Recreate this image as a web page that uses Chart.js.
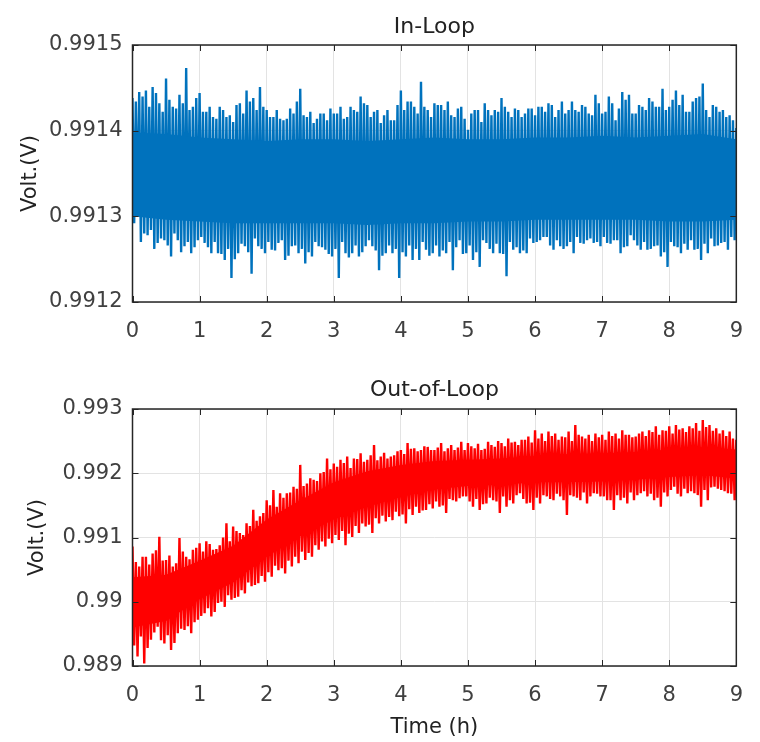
<!DOCTYPE html>
<html>
<head>
<meta charset="utf-8">
<script src="https://cdn.jsdelivr.net/npm/chart.js@4/dist/chart.umd.min.js"></script>
<style>
    body { margin: 0; background: #fff; }
    #wrap { position: relative; width: 760px; height: 742px; }
    canvas { position: absolute; left: 0; }
    #inLoop { top: 0; }
    #outLoop { top: 360px; }
</style>
</head>
<body>
<div id="wrap">
    <canvas id="inLoop" width="760" height="360"></canvas>
    <canvas id="outLoop" width="760" height="382"></canvas>
</div>
<script>
// time axis
const hourTicks = [0, 1, 2, 3, 4, 5, 6, 7, 8, 9];
const hourLabels = ['0', '1', '2', '3', '4', '5', '6', '7', '8', '9'];
const slotStep = 0.1; // each 0.1 h slot: peak, trough, smaller peak, trough
const coreHours = [0, 0.5, 1, 1.5, 2, 2.5, 3, 3.5, 4, 4.5, 5, 5.5, 6, 6.5, 7, 7.5, 8, 8.5, 9];

// In-Loop: tallest peaks at 0, 0.1 ... 9.0 h
const inHi = [
    0.991438, 0.991445, 0.991447, 0.991451, 0.991432, 0.991461, 0.991428, 0.991442, 0.991473, 0.991428,
    0.991444, 0.991422, 0.991416, 0.991428, 0.991416, 0.991410, 0.991432, 0.991447, 0.991438, 0.991451,
    0.991424, 0.991416, 0.991414, 0.991414, 0.991420, 0.991449, 0.991416, 0.991409, 0.991420, 0.991412,
    0.991420, 0.991428, 0.991416, 0.991424, 0.991440, 0.991430, 0.991422, 0.991409, 0.991424, 0.991412,
    0.991447, 0.991434, 0.991428, 0.991457, 0.991424, 0.991432, 0.991430, 0.991434, 0.991416, 0.991428,
    0.991401, 0.991424, 0.991410, 0.991424, 0.991424, 0.991438, 0.991422, 0.991426, 0.991416, 0.991426,
    0.991418, 0.991428, 0.991432, 0.991416, 0.991434, 0.991424, 0.991424, 0.991430, 0.991420, 0.991442,
    0.991420, 0.991440, 0.991412, 0.991445, 0.991442, 0.991420, 0.991428, 0.991438, 0.991428, 0.991449,
    0.991428, 0.991447, 0.991442, 0.991422, 0.991438, 0.991455, 0.991416, 0.991428, 0.991424, 0.991418,
    0.991403
];
// In-Loop: smaller peaks at 0.05, 0.15 ... 8.95 h
const inHiMid = [
    0.991434, 0.991440, 0.991428, 0.991444, 0.991422, 0.991436, 0.991426, 0.991432, 0.991424, 0.991438,
    0.991422, 0.991428, 0.991414, 0.991424, 0.991418, 0.991430, 0.991420, 0.991434, 0.991424, 0.991428,
    0.991416, 0.991424, 0.991412, 0.991426, 0.991434, 0.991418, 0.991422, 0.991414, 0.991420, 0.991426,
    0.991420, 0.991414, 0.991428, 0.991422, 0.991432, 0.991416, 0.991424, 0.991418, 0.991412, 0.991430,
    0.991424, 0.991434, 0.991420, 0.991428, 0.991416, 0.991430, 0.991424, 0.991418, 0.991426, 0.991414,
    0.991420, 0.991424, 0.991432, 0.991418, 0.991422, 0.991428, 0.991416, 0.991424, 0.991420, 0.991426,
    0.991428, 0.991422, 0.991430, 0.991424, 0.991420, 0.991434, 0.991422, 0.991428, 0.991418, 0.991432,
    0.991422, 0.991432, 0.991426, 0.991436, 0.991420, 0.991430, 0.991424, 0.991434, 0.991428, 0.991424,
    0.991436, 0.991430, 0.991422, 0.991434, 0.991440, 0.991424, 0.991430, 0.991422, 0.991416, 0.991412
];
// In-Loop: deepest troughs at 0.075, 0.175 ... 8.975 h
const inLo = [
    0.991300, 0.991280, 0.991284, 0.991269, 0.991272, 0.991253, 0.991272, 0.991265, 0.991257, 0.991272,
    0.991269, 0.991257, 0.991257, 0.991249, 0.991228, 0.991257, 0.991265, 0.991233, 0.991265, 0.991257,
    0.991261, 0.991269, 0.991249, 0.991265, 0.991257, 0.991245, 0.991253, 0.991265, 0.991261, 0.991253,
    0.991228, 0.991257, 0.991257, 0.991253, 0.991265, 0.991265, 0.991237, 0.991257, 0.991257, 0.991228,
    0.991253, 0.991249, 0.991249, 0.991261, 0.991257, 0.991253, 0.991257, 0.991237, 0.991272, 0.991257,
    0.991249, 0.991241, 0.991269, 0.991257, 0.991257, 0.991230, 0.991261, 0.991257, 0.991257, 0.991269,
    0.991272, 0.991276, 0.991261, 0.991265, 0.991265, 0.991257, 0.991269, 0.991272, 0.991269, 0.991265,
    0.991269, 0.991272, 0.991257, 0.991265, 0.991272, 0.991261, 0.991261, 0.991265, 0.991253, 0.991241,
    0.991265, 0.991257, 0.991261, 0.991261, 0.991249, 0.991257, 0.991265, 0.991269, 0.991261, 0.991272
];
// In-Loop: shallower troughs at 0.025, 0.125 ... 8.925 h
const inLoMid = [
    0.991292, 0.991270, 0.991278, 0.991262, 0.991274, 0.991266, 0.991280, 0.991258, 0.991270, 0.991264,
    0.991276, 0.991264, 0.991270, 0.991256, 0.991262, 0.991250, 0.991268, 0.991258, 0.991274, 0.991262,
    0.991270, 0.991260, 0.991272, 0.991254, 0.991266, 0.991262, 0.991258, 0.991270, 0.991264, 0.991256,
    0.991262, 0.991270, 0.991252, 0.991266, 0.991258, 0.991272, 0.991260, 0.991254, 0.991266, 0.991262,
    0.991258, 0.991266, 0.991262, 0.991270, 0.991254, 0.991266, 0.991260, 0.991270, 0.991264, 0.991256,
    0.991266, 0.991258, 0.991272, 0.991262, 0.991268, 0.991256, 0.991270, 0.991264, 0.991260, 0.991274,
    0.991270, 0.991276, 0.991266, 0.991272, 0.991262, 0.991270, 0.991276, 0.991268, 0.991274, 0.991270,
    0.991276, 0.991268, 0.991272, 0.991264, 0.991278, 0.991266, 0.991270, 0.991262, 0.991266, 0.991258,
    0.991270, 0.991264, 0.991268, 0.991272, 0.991262, 0.991268, 0.991274, 0.991266, 0.991270, 0.991276
];
// In-Loop: dense core of the trace
const inCoreHi = [0.991398, 0.991396, 0.991392, 0.991390, 0.991388, 0.991390, 0.991390, 0.991388, 0.991390, 0.991392,
    0.991390, 0.991390, 0.991392, 0.991392, 0.991394, 0.991392, 0.991394, 0.991396, 0.991390];
const inCoreLo = [0.991300, 0.991296, 0.991294, 0.991292, 0.991292, 0.991292, 0.991292, 0.991290, 0.991292, 0.991292,
    0.991294, 0.991294, 0.991296, 0.991296, 0.991296, 0.991296, 0.991294, 0.991294, 0.991296];

// Out-of-Loop: tallest peaks at 0, 0.1 ... 9.0 h
const outHi = [
    0.99086, 0.99055, 0.99070, 0.99075, 0.99101, 0.99065, 0.99055, 0.99099, 0.99070, 0.99081,
    0.99091, 0.99094, 0.99081, 0.99088, 0.99122, 0.99117, 0.99107, 0.99122, 0.99143, 0.99133,
    0.99158, 0.99174, 0.99169, 0.99169, 0.99179, 0.99213, 0.99184, 0.99190, 0.99200, 0.99223,
    0.99215, 0.99221, 0.99226, 0.99223, 0.99231, 0.99221, 0.99244, 0.99226, 0.99223, 0.99228,
    0.99236, 0.99247, 0.99239, 0.99236, 0.99241, 0.99236, 0.99247, 0.99239, 0.99236, 0.99249,
    0.99247, 0.99239, 0.99236, 0.99249, 0.99241, 0.99247, 0.99254, 0.99249, 0.99252, 0.99257,
    0.99267, 0.99262, 0.99265, 0.99262, 0.99257, 0.99265, 0.99275, 0.99257, 0.99260, 0.99262,
    0.99260, 0.99265, 0.99262, 0.99267, 0.99260, 0.99257, 0.99265, 0.99267, 0.99273, 0.99267,
    0.99273, 0.99275, 0.99270, 0.99273, 0.99278, 0.99283, 0.99275, 0.99270, 0.99267, 0.99265,
    0.99252
];
// Out-of-Loop: smaller peaks at 0.05, 0.15 ... 8.95 h
const outHiMid = [
    0.99062, 0.99070, 0.99058, 0.99080, 0.99064, 0.99072, 0.99060, 0.99078, 0.99066, 0.99084,
    0.99078, 0.99090, 0.99082, 0.99100, 0.99094, 0.99110, 0.99104, 0.99118, 0.99126, 0.99138,
    0.99150, 0.99148, 0.99162, 0.99170, 0.99176, 0.99180, 0.99192, 0.99188, 0.99202, 0.99206,
    0.99210, 0.99216, 0.99208, 0.99222, 0.99218, 0.99228, 0.99220, 0.99232, 0.99226, 0.99234,
    0.99230, 0.99238, 0.99234, 0.99242, 0.99236, 0.99240, 0.99234, 0.99244, 0.99240, 0.99236,
    0.99242, 0.99246, 0.99238, 0.99244, 0.99250, 0.99242, 0.99248, 0.99244, 0.99252, 0.99248,
    0.99254, 0.99250, 0.99258, 0.99252, 0.99256, 0.99250, 0.99260, 0.99254, 0.99250, 0.99256,
    0.99252, 0.99258, 0.99254, 0.99260, 0.99256, 0.99262, 0.99258, 0.99264, 0.99260, 0.99266,
    0.99262, 0.99268, 0.99264, 0.99270, 0.99266, 0.99272, 0.99266, 0.99262, 0.99258, 0.99254
];
// Out-of-Loop: deepest troughs at 0.075, 0.175 ... 8.975 h
const outLo = [
    0.98915, 0.98904, 0.98941, 0.98961, 0.98935, 0.98925, 0.98951, 0.98956, 0.98951, 0.98972,
    0.98982, 0.98977, 0.98998, 0.98992, 0.99003, 0.99008, 0.99013, 0.99024, 0.99029, 0.99031,
    0.99039, 0.99049, 0.99044, 0.99055, 0.99060, 0.99065, 0.99070, 0.99081, 0.99086, 0.99091,
    0.99096, 0.99088, 0.99101, 0.99107, 0.99117, 0.99107, 0.99122, 0.99125, 0.99127, 0.99133,
    0.99122, 0.99135, 0.99138, 0.99143, 0.99145, 0.99148, 0.99138, 0.99158, 0.99161, 0.99164,
    0.99148, 0.99143, 0.99153, 0.99158, 0.99138, 0.99148, 0.99153, 0.99169, 0.99153, 0.99143,
    0.99153, 0.99164, 0.99158, 0.99164, 0.99135, 0.99164, 0.99158, 0.99153, 0.99169, 0.99164,
    0.99158, 0.99143, 0.99158, 0.99153, 0.99158, 0.99169, 0.99164, 0.99158, 0.99148, 0.99164,
    0.99179, 0.99164, 0.99169, 0.99169, 0.99148, 0.99158, 0.99179, 0.99174, 0.99169, 0.99158
];
// Out-of-Loop: shallower troughs at 0.025, 0.125 ... 8.925 h
const outLoMid = [
    0.98932, 0.98946, 0.98928, 0.98952, 0.98940, 0.98948, 0.98936, 0.98958, 0.98962, 0.98968,
    0.98978, 0.98990, 0.98984, 0.99000, 0.99010, 0.99006, 0.99018, 0.99030, 0.99026, 0.99040,
    0.99046, 0.99056, 0.99052, 0.99064, 0.99070, 0.99078, 0.99076, 0.99088, 0.99094, 0.99098,
    0.99104, 0.99110, 0.99106, 0.99118, 0.99122, 0.99120, 0.99130, 0.99134, 0.99132, 0.99140,
    0.99136, 0.99144, 0.99148, 0.99142, 0.99152, 0.99156, 0.99150, 0.99160, 0.99156, 0.99164,
    0.99156, 0.99160, 0.99152, 0.99162, 0.99156, 0.99164, 0.99158, 0.99166, 0.99160, 0.99154,
    0.99162, 0.99166, 0.99160, 0.99168, 0.99158, 0.99166, 0.99162, 0.99170, 0.99164, 0.99168,
    0.99164, 0.99158, 0.99166, 0.99162, 0.99170, 0.99166, 0.99172, 0.99168, 0.99162, 0.99170,
    0.99174, 0.99168, 0.99176, 0.99172, 0.99166, 0.99174, 0.99178, 0.99176, 0.99172, 0.99168
];
const outCoreHi = [0.99038, 0.99042, 0.99064, 0.99087, 0.99128, 0.99158, 0.99186, 0.99203, 0.99213, 0.99219,
    0.99221, 0.99223, 0.99227, 0.99230, 0.99231, 0.99233, 0.99237, 0.99241, 0.99237];
const outCoreLo = [0.98960, 0.98970, 0.99004, 0.99030, 0.99070, 0.99102, 0.99128, 0.99148, 0.99163, 0.99175,
    0.99180, 0.99182, 0.99186, 0.99186, 0.99187, 0.99190, 0.99194, 0.99197, 0.99192];

// y ticks
const inTicks = [0.9912, 0.9913, 0.9914, 0.9915];
const inTickLabels = ['0.9912', '0.9913', '0.9914', '0.9915'];
const outTicks = [0.989, 0.990, 0.991, 0.992, 0.993];
const outTickLabels = ['0.989', '0.99', '0.991', '0.992', '0.993'];

const FONT = 'DejaVu Sans';

// peak, trough, peak, trough ... so the line fills the band like a dense trace
function zigzag(hi, hiMid, lo, loMid) {
    const pts = [];
    hi.forEach(function (v, i) {
        const t = i * slotStep;
        pts.push({ x: t, y: v });
        if (i < lo.length) {
            pts.push({ x: t + slotStep / 4, y: loMid[i] });
            pts.push({ x: t + slotStep / 2, y: hiMid[i] });
            pts.push({ x: t + slotStep * 3 / 4, y: lo[i] });
        }
    });
    return pts;
}

function pairUp(xs, ys) {
    return xs.map(function (x, i) { return { x: x, y: ys[i] }; });
}

// MATLAB-like box, inward ticks and axes title
const matlabBox = {
    id: 'matlabBox',
    afterDatasetsDraw(chart, args, opts) {
        const ctx = chart.ctx;
        const a = chart.chartArea;
        const x = chart.scales.x, y = chart.scales.y;
        ctx.save();
        ctx.strokeStyle = '#262626';
        ctx.lineWidth = 1;
        ctx.beginPath();
        x.ticks.forEach(function (t) {
            const px = Math.round(x.getPixelForValue(t.value)) + 0.5;
            ctx.moveTo(px, a.bottom); ctx.lineTo(px, a.bottom - 6);
            ctx.moveTo(px, a.top); ctx.lineTo(px, a.top + 6);
        });
        y.ticks.forEach(function (t) {
            const py = Math.round(y.getPixelForValue(t.value)) + 0.5;
            ctx.moveTo(a.left, py); ctx.lineTo(a.left + 6, py);
            ctx.moveTo(a.right, py); ctx.lineTo(a.right - 6, py);
        });
        ctx.stroke();
        ctx.lineWidth = 1.5;
        ctx.strokeRect(a.left, a.top, a.right - a.left, a.bottom - a.top);
        ctx.fillStyle = '#222';
        ctx.font = '22px "' + FONT + '"';
        ctx.textAlign = 'center';
        ctx.textBaseline = 'middle';
        ctx.fillText(opts.text, (a.left + a.right) / 2, a.top - opts.gap);
        ctx.restore();
    }
};

function makeConfig(o) {
    return {
        type: 'line',
        data: {
            datasets: [
                { data: pairUp(coreHours, o.coreHi), borderWidth: 0, pointRadius: 0, fill: false },
                { data: pairUp(coreHours, o.coreLo), borderWidth: 0, pointRadius: 0, fill: '-1', backgroundColor: o.color },
                { data: zigzag(o.hi, o.hiMid, o.lo, o.loMid), borderColor: o.color, borderWidth: 2.4, pointRadius: 0, tension: 0, borderJoinStyle: 'bevel', fill: false }
            ]
        },
        options: {
            responsive: false,
            animation: false,
            events: [],
            clip: 0,
            layout: { padding: { top: o.padTop, right: 8, left: 0, bottom: 0 } },
            plugins: {
                legend: { display: false },
                tooltip: { enabled: false },
                matlabBox: { text: o.title, gap: o.titleGap }
            },
            scales: {
                x: {
                    type: 'linear', min: 0, max: 9,
                    afterBuildTicks: function (s) { s.ticks = hourTicks.map(function (v) { return { value: v }; }); },
                    afterFit: function (s) { s.height = o.xHeight; },
                    grid: { color: '#e3e3e3', drawTicks: false },
                    border: { display: false },
                    ticks: {
                        color: '#404040', padding: 17, maxRotation: 0,
                        font: { family: FONT, size: 21 },
                        callback: function (v, i) { return hourLabels[i]; }
                    },
                    title: {
                        display: o.xTitle !== '', text: o.xTitle, color: '#222',
                        font: { family: FONT, size: 21 }, padding: { top: 0, bottom: 2 }
                    }
                },
                y: {
                    type: 'linear', min: o.ticks[0], max: o.ticks[o.ticks.length - 1],
                    afterBuildTicks: function (s) { s.ticks = o.ticks.map(function (v) { return { value: v }; }); },
                    afterFit: function (s) { s.width = 132.5; },
                    grid: { color: '#e3e3e3', drawTicks: false },
                    border: { display: false },
                    ticks: {
                        color: '#404040', padding: 10,
                        font: { family: FONT, size: 21 },
                        callback: function (v, i) { return o.tickLabels[i]; }
                    },
                    title: {
                        display: true, text: 'Volt.(V)', color: '#222',
                        font: { family: FONT, size: 21 }, padding: { top: o.yTitlePad, bottom: 0 }
                    }
                }
            }
        },
        plugins: [matlabBox]
    };
}

window.addEventListener('load', function () {
    new Chart(document.getElementById('inLoop').getContext('2d'), makeConfig({
        title: 'In-Loop', titleGap: 18, padTop: 45, xHeight: 58, xTitle: '',
        hi: inHi, hiMid: inHiMid, lo: inLo, loMid: inLoMid, coreHi: inCoreHi, coreLo: inCoreLo,
        ticks: inTicks, tickLabels: inTickLabels, color: '#0072BD', yTitlePad: 18
    }));
    new Chart(document.getElementById('outLoop').getContext('2d'), makeConfig({
        title: 'Out-of-Loop', titleGap: 19, padTop: 49, xHeight: 76, xTitle: 'Time (h)',
        hi: outHi, hiMid: outHiMid, lo: outLo, loMid: outLoMid, coreHi: outCoreHi, coreLo: outCoreLo,
        ticks: outTicks, tickLabels: outTickLabels, color: '#FF0000', yTitlePad: 25
    }));
});
</script>
</body>
</html>
